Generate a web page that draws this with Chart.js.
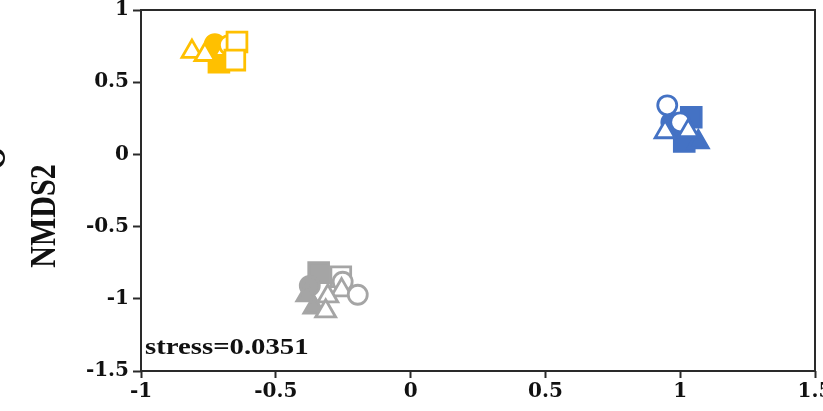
<!DOCTYPE html>
<html>
<head>
<meta charset="utf-8">
<script src="https://cdn.jsdelivr.net/npm/chart.js@4/dist/chart.umd.min.js"></script>
<style>
  html, body { margin: 0; padding: 0; background: #fff; overflow: hidden; }
  #wrap { position: relative; width: 823px; height: 411px; overflow: hidden; }
  /* canvas is a little larger than the view so the last x label runs off the edge */
  #c { position: absolute; left: 0; top: -20px; }
</style>
</head>
<body>
<div id="wrap"><canvas id="c" width="845" height="431"></canvas></div>
<script>
// NMDS ordination scores, one group per colour; filled markers listed first
const orangeX      = [-0.711, -0.726, -0.700, -0.811, -0.763, -0.689, -0.674, -0.644, -0.652];
const orangeY      = [ 0.639,  0.764,  0.660,  0.712,  0.690,  0.725,  0.757,  0.778,  0.653];
const orangeShape  = ['rect', 'circle', 'triangle', 'triangle', 'triangle', 'triangle', 'circle', 'rect', 'rect'];
const orangeFilled = [true, true, true, false, false, false, false, false, false];

const blueX      = [1.041, 0.967, 1.015, 1.067, 0.952, 0.944, 1.000, 1.030];
const blueY      = [0.257, 0.222, 0.090, 0.086, 0.340, 0.155, 0.222, 0.162];
const blueShape  = ['rect', 'circle', 'rect', 'triangle', 'circle', 'triangle', 'circle', 'triangle'];
const blueFilled = [true, true, true, true, false, false, false, false];

const greyX      = [-0.341, -0.374, -0.385, -0.359, -0.259, -0.252, -0.256, -0.196, -0.307, -0.315];
const greyY      = [-0.819, -0.910, -0.975, -1.060, -0.847, -0.882, -0.940, -0.972, -0.982, -1.086];
const greyShape  = ['rect', 'circle', 'triangle', 'triangle', 'rect', 'circle', 'triangle', 'circle', 'triangle', 'triangle'];
const greyFilled = [true, true, true, true, false, false, false, false, false, false];

// axis ranges and tick labels
const xTicks = [-1, -0.5, 0, 0.5, 1, 1.5];
const yTicks = [-1.5, -1, -0.5, 0, 0.5, 1];
const yTitle = 'NMDS2';
const stressLabel = 'stress=0.0351';

const radiusFor = { triangle: 11.5, circle: 9.5, rect: 14 };

function makeSet(xs, ys, shapes, filled, color) {
  return {
    data: xs.map((x, i) => ({ x: x, y: ys[i] })),
    pointStyle: shapes,
    pointRadius: shapes.map(s => radiusFor[s]),
    pointHoverRadius: shapes.map(s => radiusFor[s]),
    pointBackgroundColor: filled.map(f => f ? color : '#ffffff'),
    pointBorderColor: color,
    pointBorderWidth: 2.8,
    showLine: false
  };
}

const frame = {
  id: 'frame',
  beforeDatasetsDraw(chart) {
    const { ctx, chartArea: a } = chart;
    ctx.save();
    ctx.strokeStyle = '#2a2a2a';
    ctx.lineWidth = 2;
    ctx.strokeRect(a.left, a.top, a.right - a.left, a.bottom - a.top);
    ctx.restore();
  }
};

const labels = {
  id: 'labels',
  afterDraw(chart) {
    const ctx = chart.ctx;
    const a = chart.chartArea;
    ctx.save();
    ctx.fillStyle = '#111';
    // rotated y-axis title
    ctx.save();
    ctx.translate(46, a.top + 206);
    ctx.scale(1.2, 1);
    ctx.rotate(-Math.PI / 2);
    ctx.font = 'bold 30px "Liberation Serif", serif';
    ctx.textAlign = 'center';
    ctx.textBaseline = 'middle';
    ctx.fillText(yTitle, 0, 0);
    ctx.restore();
    // panel mark running off the left edge
    ctx.save();
    ctx.translate(-5, a.top + 148);
    ctx.scale(1.25, 1);
    ctx.rotate(-Math.PI / 2);
    ctx.font = 'bold 30px "Liberation Serif", serif';
    ctx.textAlign = 'center';
    ctx.textBaseline = 'middle';
    ctx.fillText('O', 0, 0);
    ctx.restore();
    // stress value
    ctx.save();
    ctx.translate(a.left + 4, a.top + 344);
    ctx.scale(1.25, 1);
    ctx.font = 'bold 23px "Liberation Serif", serif';
    ctx.textAlign = 'left';
    ctx.textBaseline = 'alphabetic';
    ctx.fillText(stressLabel, 0, 0);
    ctx.restore();
    ctx.restore();
  }
};

const tickFont = { family: '"DejaVu Serif", serif', size: 20, weight: 'bold' };
const fmt = v => String(Number(v.toFixed(2)));

new Chart(document.getElementById('c'), {
  type: 'scatter',
  data: {
    datasets: [
      makeSet(orangeX, orangeY, orangeShape, orangeFilled, '#FFC000'),
      makeSet(blueX, blueY, blueShape, blueFilled, '#4472C4'),
      makeSet(greyX, greyY, greyShape, greyFilled, '#A5A5A5')
    ]
  },
  options: {
    responsive: false,
    devicePixelRatio: 1,
    animation: false,
    layout: { padding: { top: 30, right: 30, left: 0, bottom: 0 } },
    plugins: { legend: { display: false }, tooltip: { enabled: false } },
    scales: {
      x: {
        type: 'linear',
        min: xTicks[0],
        max: xTicks[xTicks.length - 1],
        afterBuildTicks: s => { s.ticks = xTicks.map(v => ({ value: v })); },
        afterFit: s => { s.height = 40; },
        border: { display: false },
        grid: { drawOnChartArea: false, drawTicks: true, tickLength: 7, tickWidth: 2, tickColor: '#2a2a2a', color: '#2a2a2a' },
        ticks: { color: '#111', font: tickFont, padding: 2, maxRotation: 0, autoSkip: false, callback: fmt }
      },
      y: {
        type: 'linear',
        min: yTicks[0],
        max: yTicks[yTicks.length - 1],
        afterBuildTicks: s => { s.ticks = yTicks.map(v => ({ value: v })); },
        afterFit: s => { s.width = 141; },
        border: { display: false },
        grid: { drawOnChartArea: false, drawTicks: true, tickLength: 8, tickWidth: 2, tickColor: '#2a2a2a', color: '#2a2a2a' },
        ticks: { color: '#111', font: tickFont, padding: 4, autoSkip: false, callback: fmt }
      }
    }
  },
  plugins: [frame, labels]
});
</script>
</body>
</html>
